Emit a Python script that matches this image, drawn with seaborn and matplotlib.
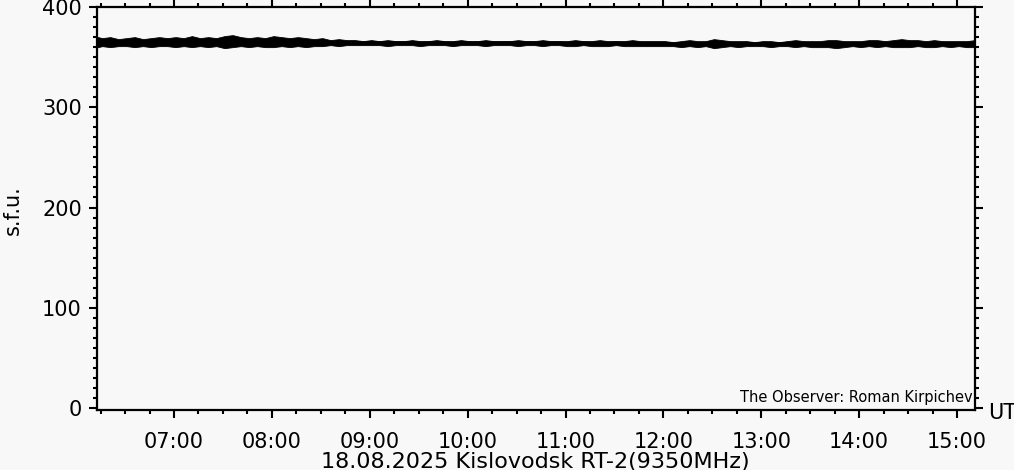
import pandas as pd
import matplotlib.pyplot as plt
import matplotlib.dates as mdates
from matplotlib.ticker import MultipleLocator
import seaborn as sns

# Kislovodsk RT-2, 9350 MHz, 18.08.2025 - flux envelope (5 min steps)
t_start = "2025-08-18 06:11"
t_end = "2025-08-18 15:16"

flux_hi = [
    371, 369, 370, 368, 369, 370, 368, 369, 370, 369,                 # 06:11-06:56
    370, 369, 371, 369, 370, 369, 371, 372, 370, 369, 370, 369,       # 07
    371, 370, 369, 370, 369, 368, 369, 367, 368, 367, 367, 366,       # 08
    367, 366, 367, 366, 366, 367, 366, 366, 367, 366, 366, 367,       # 09
    366, 366, 367, 366, 366, 366, 367, 366, 366, 367, 366, 366,       # 10
    366, 367, 366, 366, 367, 366, 366, 366, 367, 366, 366, 366,       # 11
    366, 365, 366, 367, 366, 366, 368, 367, 366, 366, 366, 365,       # 12
    366, 366, 365, 366, 367, 366, 366, 366, 367, 367, 366, 366,       # 13
    366, 367, 367, 366, 367, 368, 367, 367, 366, 367, 366, 366,       # 14
    366, 366, 367, 366,                                               # 15
]
flux_lo = [
    359, 361, 360, 361, 361, 360, 361, 360, 361, 361,
    360, 361, 360, 361, 360, 361, 359, 360, 361, 360, 361, 360,
    360, 361, 360, 361, 360, 361, 361, 362, 361, 362, 362, 362,
    362, 362, 361, 362, 362, 362, 361, 362, 362, 362, 361, 362,
    362, 362, 361, 362, 362, 362, 361, 362, 362, 361, 362, 362,
    361, 361, 362, 361, 361, 361, 362, 361, 361, 361, 361, 361,
    361, 361, 360, 361, 360, 361, 359, 360, 361, 360, 361, 361,
    361, 360, 361, 361, 360, 361, 360, 360, 360, 359, 360, 361,
    360, 361, 360, 361, 360, 360, 360, 361, 360, 360, 361, 360,
    361, 360, 360, 361,
]

times = pd.date_range(t_start, t_end, freq="5min")
df = pd.concat([
    pd.DataFrame({"time": times, "sfu": flux_hi}),
    pd.DataFrame({"time": times, "sfu": flux_lo}),
])

bg = "#f8f8f8"
sns.set_style("ticks")
plt.rcParams["font.family"] = ["DejaVu Sans"]
plt.rcParams["text.color"] = "black"

fig = plt.figure(figsize=(10.14, 4.70), dpi=100, facecolor=bg)
ax = fig.add_axes([0.0957, 0.1277, 0.8658, 0.8573], facecolor=bg)

# min-max band of the trace plus the mean line
sns.lineplot(data=df, x="time", y="sfu", ax=ax, color="black", linewidth=2.6,
             errorbar=("pi", 100),
             err_kws={"alpha": 1, "linewidth": 0.6})

ax.set_xlim(pd.Timestamp("2025-08-18 06:12:50"), pd.Timestamp("2025-08-18 15:11:00"))
ax.set_ylim(-2, 400)

ax.xaxis.set_major_locator(mdates.HourLocator())
ax.xaxis.set_minor_locator(mdates.MinuteLocator(byminute=[15, 30, 45]))
ax.xaxis.set_major_formatter(mdates.DateFormatter("%H:%M"))
ax.yaxis.set_major_locator(MultipleLocator(100))
ax.yaxis.set_minor_locator(MultipleLocator(10))

for s in ax.spines.values():
    s.set_visible(True)
    s.set_linewidth(1.6)
    s.set_color("black")
ax.tick_params(which="both", direction="out", top=True, right=True, width=1.5,
               colors="black", labelcolor="black")
ax.tick_params(which="major", length=6)
ax.tick_params(which="minor", length=3.2)
ax.tick_params(axis="x", which="major", labelsize=15, pad=10)
ax.tick_params(axis="y", which="major", labelsize=15, pad=5)

ax.set_xlabel("")
ax.set_ylabel("")
fig.text(0.013, 0.553, "s.f.u.", rotation=90, ha="center", va="center", fontsize=15, color="black")
fig.text(0.974, 0.121, "UT", ha="left", va="center", fontsize=15, color="black")
fig.text(0.528, 0.017, "18.08.2025 Kislovodsk RT-2(9350MHz)", ha="center", va="center",
         fontsize=16, color="black")
ax.text(0.997, 0.012, "The Observer: Roman Kirpichev", transform=ax.transAxes,
        ha="right", va="bottom", fontsize=10.5, color="black")

fig.savefig("out.png", dpi=100, facecolor=bg)
